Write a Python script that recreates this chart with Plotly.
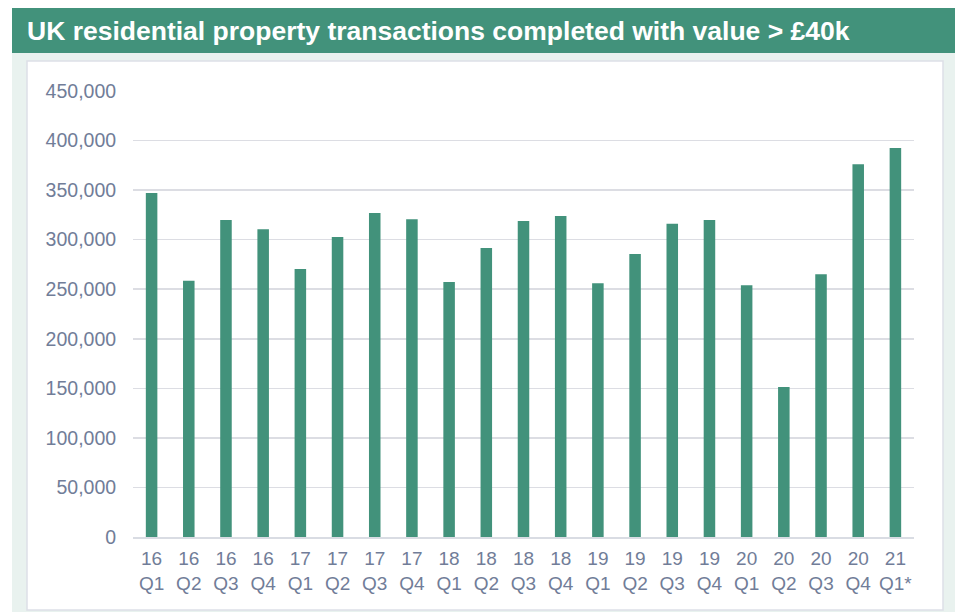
import plotly.graph_objects as go

years = ["16", "16", "16", "16", "17", "17", "17", "17", "18", "18", "18", "18",
         "19", "19", "19", "19", "20", "20", "20", "20", "21"]
quarters = ["Q1", "Q2", "Q3", "Q4", "Q1", "Q2", "Q3", "Q4", "Q1", "Q2", "Q3", "Q4",
            "Q1", "Q2", "Q3", "Q4", "Q1", "Q2", "Q3", "Q4", "Q1*"]
transactions = [347000, 258600, 319800, 310400, 270400, 302700, 326900, 320500,
                257300, 291600, 318800, 323900, 256000, 285500, 316100, 319800,
                253900, 151300, 265000, 376000, 392500]
y_ticks = [0, 50000, 100000, 150000, 200000, 250000, 300000, 350000, 400000, 450000]

labels = [f"{y}<br>{q}" for y, q in zip(years, quarters)]

W, H = 955, 612
ML, MR, MT, MB = 133, 41, 91, 75
PW, PH = W - ML - MR, H - MT - MB


def px(x):
    return (x - ML) / PW


def py(y):
    return (H - MB - y) / PH


GREEN = "#42927b"
TXT = "#717d98"
FONT = "Liberation Sans, Arial, sans-serif"

fig = go.Figure(go.Bar(
    x=labels, y=transactions, marker=dict(color=GREEN, line=dict(width=0)),
))

shapes = [
    dict(type="rect", xref="paper", yref="paper", x0=px(12), x1=px(955), y0=py(612), y1=py(53),
         fillcolor="#e9f2ef", line=dict(width=0), layer="below"),
    dict(type="rect", xref="paper", yref="paper", x0=px(27), x1=px(943), y0=py(610), y1=py(61),
         fillcolor="#ffffff", line=dict(color="#dde0e7", width=1.5), layer="below"),
    dict(type="rect", xref="paper", yref="paper", x0=px(12), x1=px(955), y0=py(53), y1=py(8),
         fillcolor=GREEN, line=dict(width=0), layer="below"),
]

fig.update_layout(
    width=W, height=H,
    margin=dict(l=ML, r=MR, t=MT, b=MB, pad=0),
    paper_bgcolor="#ffffff", plot_bgcolor="rgba(0,0,0,0)",
    bargap=0.69, showlegend=False,
    shapes=shapes,
    font=dict(family=FONT, color=TXT, size=19),
    annotations=[dict(
        text="<b>UK residential property transactions completed with value > £40k</b>",
        xref="paper", yref="paper", x=px(25), y=py(30.5), xanchor="left", yanchor="middle",
        showarrow=False, font=dict(family=FONT, size=26.5, color="#ffffff"),
    )],
    xaxis=dict(showgrid=False, showline=True, linecolor="#d9dce3", linewidth=1.5,
               ticks="outside", ticklen=4, tickcolor="rgba(0,0,0,0)",
               tickfont=dict(size=19, color=TXT), fixedrange=True),
    yaxis=dict(range=[0, 450000], tickvals=y_ticks, tickformat=",", showgrid=True,
               gridcolor="#dcdde3", gridwidth=1.5, zeroline=False, showline=False,
               ticks="outside", ticklen=12, tickcolor="rgba(0,0,0,0)",
               tickfont=dict(size=19.5, color=TXT), fixedrange=True),
)

fig.write_html(
    "out.html",
    config={"displayModeBar": False, "staticPlot": True},
    post_script="document.body.style.margin='0px';document.body.style.overflow='hidden';",
)
